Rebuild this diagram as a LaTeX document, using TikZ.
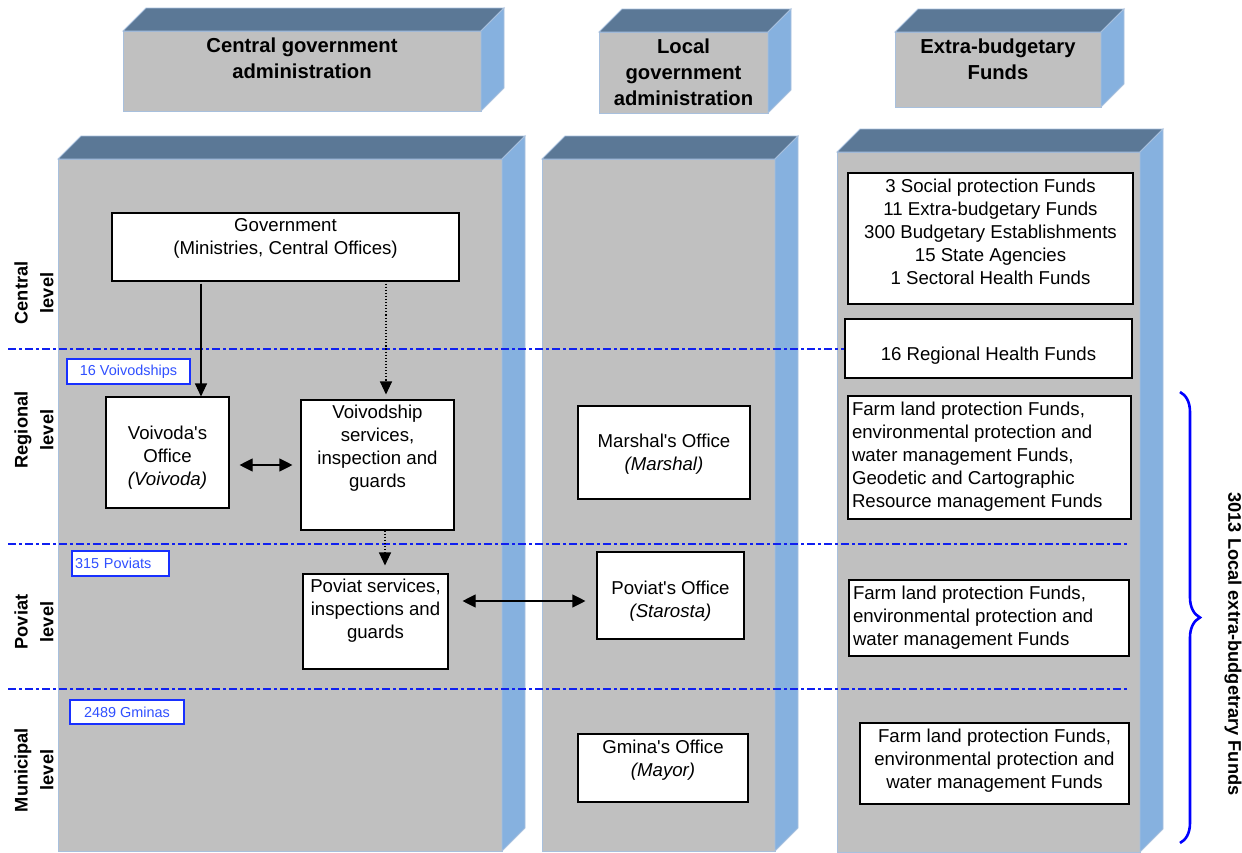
\documentclass[tikz,border=0pt]{standalone}
\usepackage{fontspec}
\setmainfont{Liberation Sans}
\usetikzlibrary{arrows.meta,decorations.pathreplacing}
\definecolor{facefront}{HTML}{C0C0C0}
\definecolor{facetop}{HTML}{5B7896}
\definecolor{faceside}{HTML}{86B1DF}
\definecolor{edgeblue}{HTML}{A8C0DD}
\definecolor{lineblue}{HTML}{1020F0}
\definecolor{tagblue}{HTML}{1830FF}
\definecolor{tagtext}{HTML}{3050FF}
\definecolor{bracecol}{HTML}{0000FF}
\newcommand\prismbox[5]{%
  \filldraw[fill=facefront, draw=edgeblue, line width=0.9bp] (#1,#2) rectangle (#3,#4);
  \filldraw[fill=facetop, draw=edgeblue, line width=0.9bp] (#1,#2) -- ({#1+#5},{#2-#5}) -- ({#3+#5},{#2-#5}) -- (#3,#2) -- cycle;
  \filldraw[fill=faceside, draw=edgeblue, line width=0.9bp] (#3,#2) -- ({#3+#5},{#2-#5}) -- ({#3+#5},{#4-#5}) -- (#3,#4) -- cycle;
}
\newcommand\bxc[4]{\parbox[c][#2bp][t]{#1bp}{\centering\vspace*{#3bp}#4\par}}
\newcommand\bxl[4]{\parbox[c][#2bp][t]{#1bp}{\raggedright\leftskip=4bp\vspace*{#3bp}#4\par}}
\newcommand\apo{\textquotesingle}
\begin{document}
\begin{tikzpicture}[x=1bp,y=-1bp,
  wbox/.style={draw=black, line width=1.1bp, fill=white, inner sep=0pt, font=\fontsize{18.7}{23.2}\selectfont},
  tagbox/.style={draw=tagblue, line width=1.4bp, fill=white, inner sep=0pt, text=tagtext, font=\fontsize{14.5}{16}\selectfont},
  lvl/.style={rotate=90, align=center, font=\bfseries\fontsize{18.3}{26}\selectfont},
  head/.style={align=center, font=\bfseries\fontsize{20.3}{26}\selectfont},
  levelline/.style={draw=lineblue, line width=1.2bp, dash pattern=on 8bp off 3bp on 3bp off 3bp},
  arr/.style={line width=1.1bp, -{Triangle[length=13bp,width=12bp]}},
  darr/.style={line width=1.1bp, {Triangle[length=13bp,width=13bp]}-{Triangle[length=13bp,width=13bp]}},
  dotarr/.style={arr, dotted},
]
\useasboundingbox (0,0) rectangle (1242,853);

% header prisms
\prismbox{123}{31}{481}{111}{23}
\prismbox{599}{32}{768}{113}{23}
\prismbox{895}{32}{1101}{107}{23}
\node[head] (h1) at (302,58) {Central government\\administration};
\node[head] (h2) at (683.5,72) {Local\\government\\administration};
\node[head] (h3) at (998,59) {Extra-budgetary\\Funds};

% column prisms
\prismbox{58}{159}{502}{851}{23}
\prismbox{542}{159}{775}{851}{23}
\prismbox{837}{152}{1140}{852}{23}

% level lines
\draw[levelline] (8,349) -- (845,349);
\draw[levelline] (8,544) -- (1128,544);
\draw[levelline] (8,689) -- (1128,689);

% level labels
\node[lvl] (lc) at (34,293) {Central\\level};
\node[lvl] (lr) at (34,430) {Regional\\level};
\node[lvl] (lp) at (34,622) {Poviat\\level};
\node[lvl] (lm) at (34,770) {Municipal\\level};

% tags
\node[tagbox, minimum width=123bp, minimum height=25bp] (t1) at (128.5,371.5) {16 Voivodships};
\node[tagbox, minimum width=97bp, minimum height=25bp, text width=91bp, align=left] (t2) at (120.5,563.5) {315 Poviats};
\node[tagbox, minimum width=114bp, minimum height=24bp] (t3) at (127,712) {2489 Gminas};

% central government column
\node[wbox] (gov) at (285.5,247) {\bxc{347}{68}{5}{Government\\(Ministries, Central Offices)}};
\node[wbox] (voi) at (167.5,452.5) {\bxc{123}{111}{29}{Voivoda\apo s\\Office\\\textit{(Voivoda)}}};
\node[wbox] (vs) at (377.5,465) {\bxc{153}{130}{5}{Voivodship\\services,\\inspection and\\guards}};
\node[wbox] (ps) at (375.5,621.5) {\bxc{145}{95}{5}{Poviat services,\\inspections and\\guards}};

% local government column
\node[wbox] (mo) at (664,452.5) {\bxc{172}{93}{28}{Marshal\apo s Office\\\textit{(Marshal)}}};
\node[wbox] (po) at (670.5,595.5) {\bxc{147}{87}{29}{Poviat\apo s Office\\\textit{(Starosta)}}};
\node[wbox] (go) at (663,768) {\bxc{170}{68}{6}{Gmina\apo s Office\\\textit{(Mayor)}}};

% extra-budgetary column
\node[wbox] (fa) at (990.5,238.5) {\bxc{285}{131}{6}{3 Social protection Funds\\11 Extra-budgetary Funds\\300 Budgetary Establishments\\15 State Agencies\\1 Sectoral Health Funds}};
\node[wbox] (rh) at (988.5,348.5) {\bxc{287}{59}{28}{16 Regional Health Funds}};
\node[wbox] (fc) at (989.5,457.5) {\bxl{283}{123}{6}{Farm land protection Funds,\\environmental protection and\\water management Funds,\\Geodetic and Cartographic\\Resource management Funds}};
\node[wbox] (fd) at (989,618) {\bxl{280}{76}{6}{Farm land protection Funds,\\environmental protection and\\water management Funds}};
\node[wbox] (fe) at (994.5,763.5) {\bxc{269}{81}{6}{Farm land protection Funds,\\environmental protection and\\water management Funds}};

% connectors
\draw[arr, shorten <=2bp] (gov.south -| 201,0) -- (voi.north -| 201,0);
\draw[dotarr, shorten <=2bp, shorten >=5bp] (gov.south -| 386,0) -- (vs.north -| 386,0);
\draw[dotarr, shorten >=8bp] (vs.south -| 385,0) -- (ps.north -| 385,0);
\draw[darr, shorten <=10bp, shorten >=8bp] (voi.east |- vs.center) -- (vs.west);
\draw[darr, shorten <=14bp, shorten >=11bp] (ps.east |- 0,601) -- (po.west |- 0,601);

% brace
\draw[bracecol, line width=2.6bp, decorate, decoration={brace, amplitude=20bp}] (1180,392) coordinate (bt) -- (1180,843) coordinate (bb);
\node[rotate=-90, font=\bfseries\fontsize{18.3}{22}\selectfont] (tot) at (1233,644) {3013 Local extra-budgetrary Funds};
\end{tikzpicture}
\end{document}
